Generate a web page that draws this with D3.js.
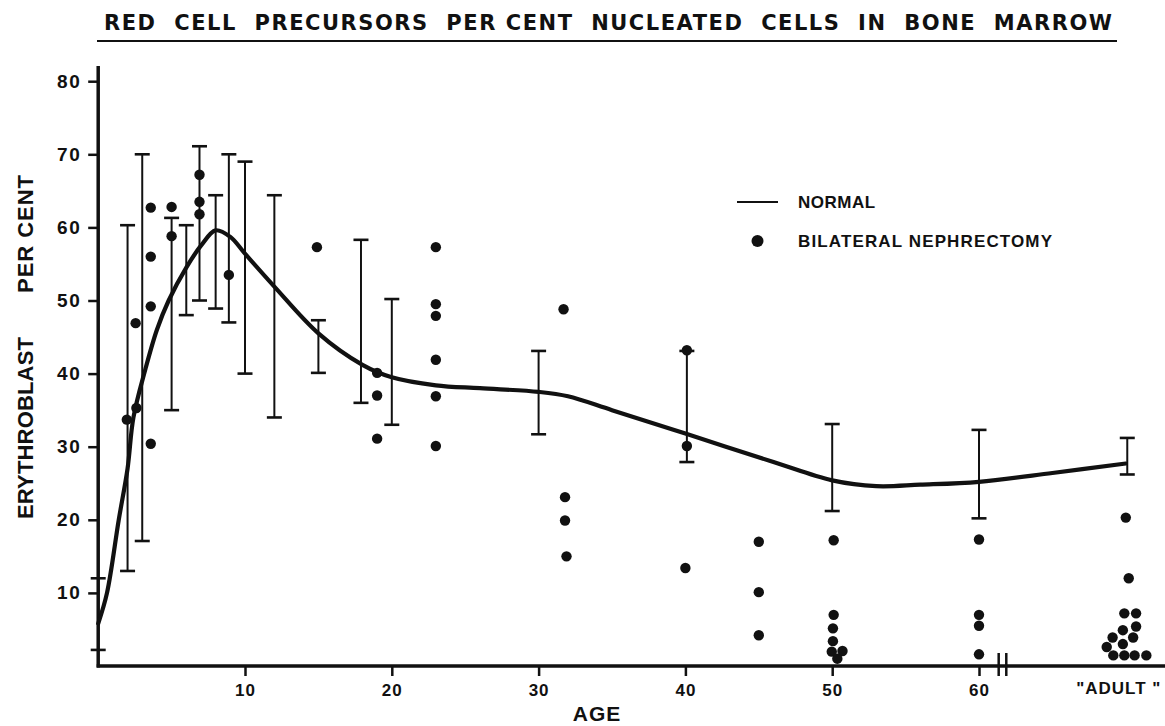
<!DOCTYPE html>
<html><head><meta charset="utf-8">
<script src="https://cdn.jsdelivr.net/npm/d3@7"></script>
<style>
html,body{margin:0;padding:0;background:#fff;}
svg{display:block;}
text{font-family:"Liberation Sans",Arial,Helvetica,sans-serif;font-weight:bold;fill:#111;}
</style></head>
<body>
<svg id="chart" width="1165" height="726"></svg>
<script>
// ---- data ----
const titleText = "RED  CELL  PRECURSORS  PER CENT  NUCLEATED  CELLS  IN  BONE  MARROW";
const yTicks = [10, 20, 30, 40, 50, 60, 70, 80];
const xTicks = [10, 20, 30, 40, 50, 60];
const adultAge = 70;
const adultLabel = "\"ADULT \"";

// NORMAL curve (age, erythroblast %)
const normAges = [0, 0.6, 1.4, 2, 2.4, 3.2, 4, 4.8, 6, 7, 8, 9, 10, 12, 15, 18, 20, 23, 26, 30, 32, 35, 40, 46, 50, 53, 56, 60, 65, 70];
const normVals = [5.8, 10, 20, 27, 34, 40.5, 46, 50, 54.5, 57.5, 59.6, 58.7, 56.4, 51.9, 45.5, 41.2, 39.5, 38.4, 38, 37.5, 36.9, 35, 31.8, 27.9, 25.4, 24.6, 24.8, 25.2, 26.4, 27.7];

// NORMAL range bars
const errAges = [0, 2, 3, 5, 6, 6.9, 8, 8.9, 10, 12, 15, 17.9, 20, 30, 40.1, 50, 60, 70.1];
const errLow  = [2.2, 13, 17.1, 35, 48, 50, 48.9, 47, 40, 34, 40.1, 36, 33, 31.7, 27.9, 21.2, 20.2, 26.2];
const errHigh = [12, 60.3, 70, 61.3, 60.3, 71.1, 64.4, 70, 69, 64.4, 47.3, 58.3, 50.2, 43.1, 43.1, 33.1, 32.3, 31.2];

// BILATERAL NEPHRECTOMY points
const nephAges = [1.95, 2.6, 2.55, 3.58, 3.58, 3.58, 3.58, 5.0, 5.0, 6.9, 6.9, 6.9, 8.9,
  14.9, 19.0, 19.0, 19.0, 23, 23, 23, 23, 23, 23,
  31.7, 31.8, 31.8, 31.9, 40.1, 40.1, 40, 45, 45, 45,
  50.1, 50.1, 50.05, 50.05, 49.97, 50.7, 50.35,
  60, 60, 60, 60,
  70.0, 70.2, 69.9, 70.7, 69.8, 70.7, 69.1, 70.5, 68.7, 69.8, 69.15, 69.9, 70.6, 71.4];
const nephVals = [33.7, 35.3, 46.9, 62.7, 56.0, 49.2, 30.4, 62.8, 58.8, 67.2, 63.5, 61.8, 53.5,
  57.3, 40.1, 37.0, 31.1, 57.3, 49.5, 47.9, 41.9, 36.9, 30.1,
  48.8, 23.1, 19.9, 15.0, 43.2, 30.1, 13.4, 17.0, 10.1, 4.2,
  17.2, 7.0, 5.15, 3.4, 1.96, 2.05, 1.0,
  17.3, 7.0, 5.5, 1.6,
  20.3, 12.0, 7.2, 7.2, 4.9, 5.4, 3.9, 3.9, 2.6, 3.0, 1.45, 1.45, 1.45, 1.45];

const legendItems = ["NORMAL", "BILATERAL NEPHRECTOMY"];
const xLabel = "AGE";
const yLabelParts = ["ERYTHROBLAST", "PER CENT"];

// ---- drawing ----
const svg = d3.select("#chart");
const x = d3.scaleLinear().domain([0, 70]).range([98.2, 1125.8]);
const y = d3.scaleLinear().domain([0, 80]).range([666, 81.2]);
const ink = "#111";

// title
svg.append("text").attr("x", 104).attr("y", 30)
  .style("font-family", "'DejaVu Sans',sans-serif")
  .attr("font-size", 21).attr("textLength", 1008).attr("lengthAdjust", "spacing")
  .style("white-space", "pre").text(titleText);
svg.append("line").attr("x1", 97).attr("x2", 1117).attr("y1", 41).attr("y2", 41)
  .attr("stroke", ink).attr("stroke-width", 2.2);

// y axis
const yAxis = svg.append("g").attr("transform", `translate(${x(0)},0)`)
  .call(d3.axisLeft(y).tickValues(yTicks).tickSize(10).tickPadding(7).tickFormat(d3.format("d")));
yAxis.select(".domain").remove();
yAxis.selectAll(".tick line").attr("stroke", ink).attr("stroke-width", 2.5);
yAxis.selectAll(".tick text").attr("font-size", 19).attr("fill", ink).attr("letter-spacing", 1.5);
svg.append("line").attr("x1", x(0)).attr("x2", x(0)).attr("y1", 66).attr("y2", 667.5)
  .attr("stroke", ink).attr("stroke-width", 3.5);

// x axis
const xAxis = svg.append("g").attr("transform", `translate(0,${y(0)})`)
  .call(d3.axisBottom(x).tickValues(xTicks).tickSize(10).tickPadding(8).tickFormat(d3.format("d")));
xAxis.select(".domain").remove();
xAxis.selectAll(".tick line").attr("stroke", ink).attr("stroke-width", 2.5);
xAxis.selectAll(".tick text").attr("font-size", 17).attr("fill", ink).attr("letter-spacing", 1);
svg.append("line").attr("x1", x(0) - 1.5).attr("x2", 1165).attr("y1", y(0)).attr("y2", y(0))
  .attr("stroke", ink).attr("stroke-width", 3.5);
svg.append("text").attr("x", x(adultAge) - 7).attr("y", 694).attr("text-anchor", "middle")
  .attr("font-size", 17).attr("letter-spacing", 1).style("white-space", "pre").text(adultLabel);
// axis break
const brk = x(61.6);
[-3.8, 3.8].forEach(o => svg.append("line").attr("x1", brk + o).attr("x2", brk + o)
  .attr("y1", y(0) - 13).attr("y2", y(0) + 10).attr("stroke", ink).attr("stroke-width", 2.5));

// axis labels
svg.append("text").attr("x", 597).attr("y", 721).attr("text-anchor", "middle")
  .attr("font-size", 21).attr("letter-spacing", 1).text(xLabel);
svg.append("text").attr("transform", "translate(33,428) rotate(-90)").attr("text-anchor", "middle")
  .attr("font-size", 22).attr("textLength", 182).attr("lengthAdjust", "spacing").text(yLabelParts[0]);
svg.append("text").attr("transform", "translate(33,234) rotate(-90)").attr("text-anchor", "middle")
  .attr("font-size", 22).attr("textLength", 118).attr("lengthAdjust", "spacing").text(yLabelParts[1]);

// range bars
const bars = errAges.map((a, i) => ({a, lo: errLow[i], hi: errHigh[i]}));
const capW = 7.5;
const gB = svg.append("g").attr("stroke", ink);
bars.forEach(b => {
  gB.append("line").attr("x1", x(b.a)).attr("x2", x(b.a)).attr("y1", y(b.lo)).attr("y2", y(b.hi)).attr("stroke-width", 2);
  [b.lo, b.hi].forEach(v => gB.append("line").attr("x1", x(b.a) - capW).attr("x2", x(b.a) + capW)
    .attr("y1", y(v)).attr("y2", y(v)).attr("stroke-width", 2.6));
});

// normal curve
const line = d3.line().x(d => x(d[0])).y(d => y(d[1])).curve(d3.curveCatmullRom.alpha(0.5));
svg.append("path").datum(normAges.map((a, i) => [a, normVals[i]]))
  .attr("d", line).attr("fill", "none").attr("stroke", ink).attr("stroke-width", 4.2)
  .attr("stroke-linejoin", "round").attr("stroke-linecap", "round");

// points
svg.append("g").selectAll("circle").data(nephAges.map((a, i) => [a, nephVals[i]]))
  .join("circle").attr("cx", d => x(d[0])).attr("cy", d => y(d[1])).attr("r", 5.2).attr("fill", ink);

// legend
svg.append("line").attr("x1", 737).attr("x2", 778).attr("y1", 202).attr("y2", 202)
  .attr("stroke", ink).attr("stroke-width", 2.2);
svg.append("text").attr("x", 798).attr("y", 208).attr("font-size", 17).attr("letter-spacing", 0.5).text(legendItems[0]);
svg.append("circle").attr("cx", 757.5).attr("cy", 241).attr("r", 6).attr("fill", ink);
svg.append("text").attr("x", 798).attr("y", 247).attr("font-size", 17).attr("textLength", 254)
  .attr("lengthAdjust", "spacing").text(legendItems[1]);
</script>
</body></html>
